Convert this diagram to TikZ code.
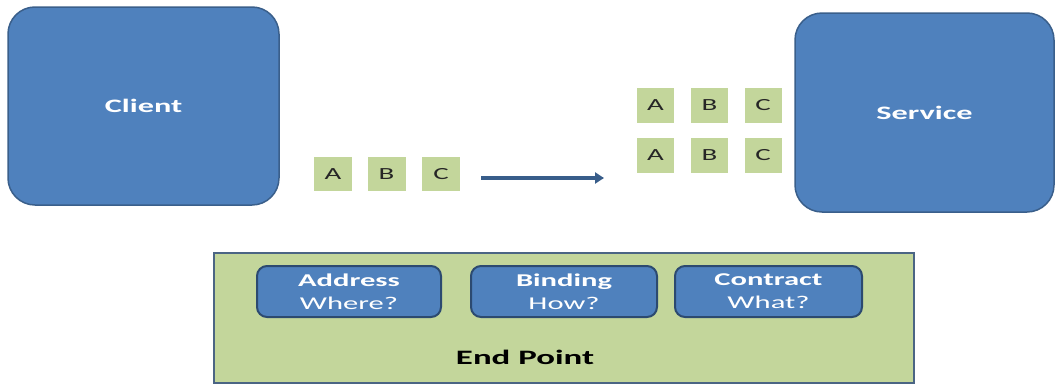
\documentclass[tikz,border=0pt]{standalone}
\usepackage{fontspec}
\setmainfont{Carlito}
\newfontfamily\wfont[FakeStretch=1.7]{Carlito}
\usetikzlibrary{arrows.meta}
\definecolor{oblue}{HTML}{4F81BD}
\definecolor{oblueB}{HTML}{3A5F8B}
\definecolor{innerB}{HTML}{2C4A70}
\definecolor{ogreen}{HTML}{C3D69B}
\definecolor{epB}{HTML}{4B6584}
\definecolor{arrowC}{HTML}{385D8A}
\tikzset{
  bigbox/.style={draw=oblueB, fill=oblue, line width=1.5pt, rounded corners=27pt,
    text=white, font=\wfont\bfseries\fontsize{19}{23}\selectfont},
  letter/.style={fill=ogreen, minimum width=38pt, minimum height=34pt, inner sep=0pt,
    text=black!85, font=\wfont\fontsize{17}{20}\selectfont},
  epbox/.style={draw=epB, fill=ogreen, line width=1.5pt, inner sep=0pt},
  partbox/.style={draw=innerB, fill=oblue, line width=2pt, rounded corners=10pt,
    minimum height=51pt, inner sep=0pt, text=white, align=center,
    font=\wfont\fontsize{18}{23}\selectfont},
  eplabel/.style={text=black, font=\wfont\bfseries\fontsize{20.5}{24}\selectfont},
  flow/.style={draw=arrowC, line width=4pt, -{Triangle[length=9pt,width=11pt]}}
}
\begin{document}
\begin{tikzpicture}[x=1pt,y=-1pt]
\useasboundingbox (0,0) rectangle (1056,383);
% client and service
\node[bigbox, minimum width=271pt, minimum height=198pt] (client) at (143.5,106) {Client};
\node[bigbox, minimum width=259pt, minimum height=199pt] (service) at (924.5,112.5) {Service};
% message on the way
\node[letter] (a0) at (333,174) {A};
\node[letter] (b0) at (386.5,174) {B};
\node[letter] (c0) at (441,174) {C};
% messages at the service
\node[letter, minimum width=37pt, minimum height=35pt] (a1) at (655.5,105.5) {A};
\node[letter, minimum width=37pt, minimum height=35pt] (b1) at (709.5,105.5) {B};
\node[letter, minimum width=37pt, minimum height=35pt] (c1) at (763,105.5) {C};
\node[letter, minimum width=37pt, minimum height=35pt] (a2) at (655.5,155.5) {A};
\node[letter, minimum width=37pt, minimum height=35pt] (b2) at (709.5,155.5) {B};
\node[letter, minimum width=37pt, minimum height=35pt] (c2) at (763,155.5) {C};
% arrow
\coordinate (arrS) at (481,178);
\coordinate (arrE) at (604,178);
\draw[flow] (arrS) -- (arrE);
% end point
\node[epbox, minimum width=700pt, minimum height=130pt] (ep) at (564,318) {};
\node[partbox, minimum width=184pt] (addr) at (349,291.5) {\bfseries Address\\Where?};
\node[partbox, minimum width=186pt] (bind) at (564,291.5) {\bfseries Binding\\How?};
\node[partbox, minimum width=187pt] (contr) at (768.5,291.5) {\bfseries Contract\\What?};
\node[eplabel] (eptext) at (525,357) {End Point};
\end{tikzpicture}
\end{document}
